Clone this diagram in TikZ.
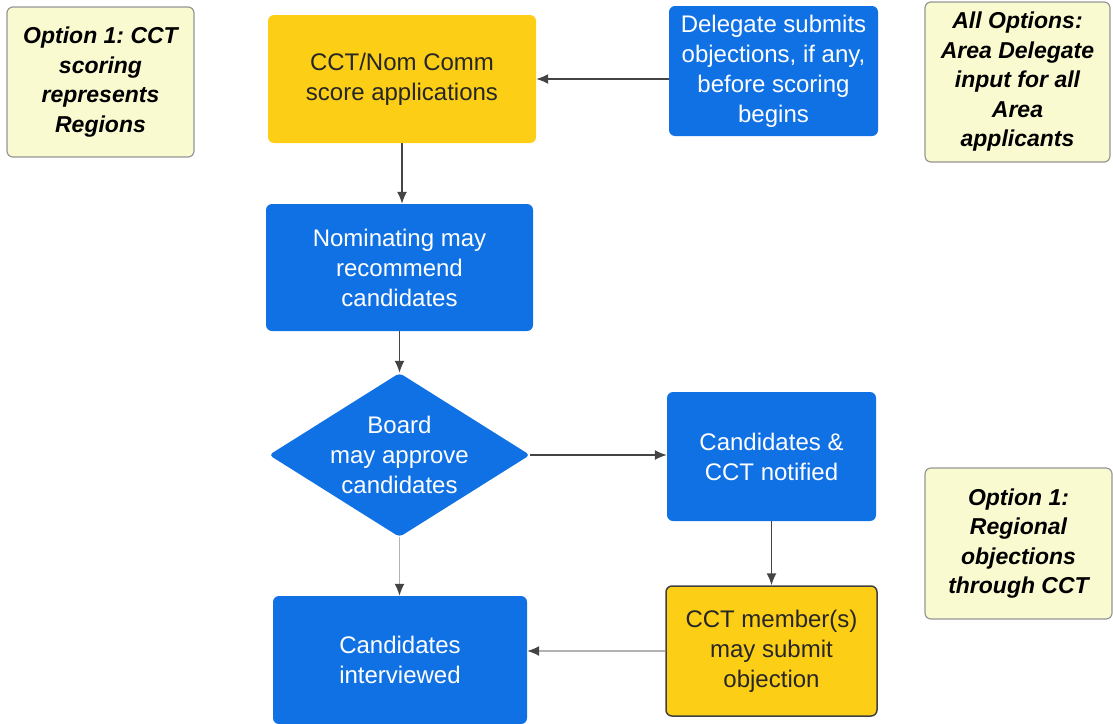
\documentclass[tikz,border=0pt]{standalone}
\usepackage{fontspec}
\setmainfont{Liberation Sans}
\usepackage{tikz}
\usepackage{xcolor}
\usetikzlibrary{shapes.geometric,arrows.meta}
\frenchspacing

\definecolor{stepblue}{RGB}{16,113,229}
\definecolor{stepyellow}{RGB}{252,206,22}
\definecolor{notefill}{RGB}{250,250,208}
\definecolor{noteline}{RGB}{150,150,150}
\definecolor{flowgray}{RGB}{68,68,68}

\begin{document}
\begin{tikzpicture}[x=1pt,y=-1pt,
    bluebox/.style={rectangle,rounded corners=6pt,fill=stepblue,text=white,align=center,
      font=\fontsize{24}{30}\selectfont,inner sep=0pt},
    yellowbox/.style={rectangle,rounded corners=6pt,fill=stepyellow,text=black!85,align=center,
      font=\fontsize{24}{30}\selectfont,inner sep=0pt},
    notebox/.style={rectangle,rounded corners=6pt,fill=notefill,draw=noteline,line width=1.2pt,
      align=center,font=\fontsize{23}{29.5}\selectfont\bfseries\itshape,inner sep=0pt},
    decision/.style={diamond,rounded corners=4pt,fill=stepblue,inner sep=0pt,aspect=1.59},
    flow/.style={-{Latex[length=12pt,width=10pt]},draw=flowgray,line width=1.5pt},
    lightflow/.style={-{Latex[length=12pt,width=10pt,color=flowgray]},draw=gray!60,line width=1.5pt}]
    \useasboundingbox (0,0) rectangle (1113,723);

    % notes at the sides
    \node[notebox,minimum width=187pt,minimum height=150pt] (noteregions) at (100.5,82)
      {Option 1: CCT\\scoring\\represents\\Regions};
    \node[notebox,minimum width=185pt,minimum height=160pt] (noteall) at (1017.5,82)
      {All Options:\\Area Delegate\\input for all\\Area\\applicants};
    \node[notebox,minimum width=187pt,minimum height=151pt] (noteregional) at (1018.5,543.5)
      {Option 1:\\Regional\\objections\\through CCT};

    % steps
    \node[yellowbox,minimum width=268pt,minimum height=128pt] (cctscore) at (402,79)
      {CCT/Nom Comm\\score applications};
    \node[bluebox,minimum width=209pt,minimum height=130pt] (delegate) at (773.5,71)
      {Delegate submits\\objections, if any,\\before scoring\\begins};
    \node[bluebox,minimum width=267pt,minimum height=127pt] (nominating) at (399.5,267.5)
      {Nominating may\\recommend\\candidates};
    \node[decision,minimum width=261pt,minimum height=164pt,
      label={[text=white,align=center,font=\fontsize{24}{30}\selectfont]center:Board\\may approve\\candidates}]
      (board) at (399.5,455) {};
    \node[bluebox,minimum width=209pt,minimum height=129pt] (notified) at (771.5,456.5)
      {Candidates \&\\CCT notified};
    \node[bluebox,minimum width=254pt,minimum height=128pt] (interviewed) at (400,660)
      {Candidates\\interviewed};
    \node[yellowbox,draw=black!75,line width=1.5pt,minimum width=211pt,minimum height=130pt]
      (ccmember) at (771.5,651) {CCT member(s)\\may submit\\objection};

    % connectors
    \draw[flow] (delegate.west |- cctscore.east) -- (cctscore.east);
    \draw[flow] (cctscore.south) -- (cctscore.south |- nominating.north);
    \draw[flow] (nominating.south) -- (board.north);
    \draw[flow] (board.east) -- (board.east -| notified.west);
    \draw[lightflow] (board.south) -- (board.south |- interviewed.north);
    \draw[flow] (notified.south) -- (ccmember.north);
    \draw[lightflow] (ccmember.west) -- (ccmember.west -| interviewed.east);
\end{tikzpicture}
\end{document}
